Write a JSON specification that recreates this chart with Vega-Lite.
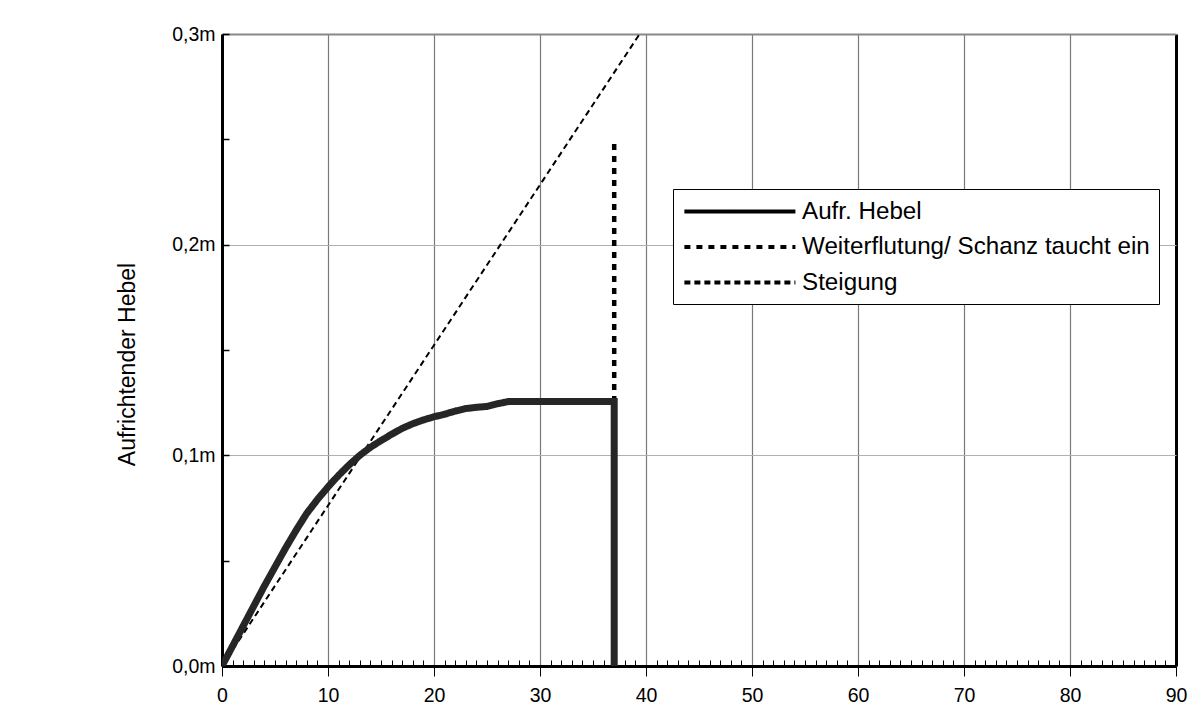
{
  "$schema": "https://vega.github.io/schema/vega-lite/v6.json",
  "autosize": {"type": "none"},
  "padding": {"left": 222, "top": 34, "right": 28, "bottom": 52},
  "width": 954,
  "height": 632,
  "background": "white",
  "config": {
    "font": "Liberation Sans",
    "view": {"stroke": null},
    "legend": {"strokeWidth": 1},
    "axis": {"labelColor": "black", "titleColor": "black", "labelFont": "Liberation Sans", "titleFont": "Liberation Sans"}
  },
  "data": {
    "values": [
      {"series": "Steigung", "i": 0, "x": 0, "y": 0},
      {"series": "Steigung", "i": 1, "x": 39.4, "y": 0.3},
      {"series": "Weiterflutung/ Schanz taucht ein", "i": 0, "x": 37, "y": 0},
      {"series": "Weiterflutung/ Schanz taucht ein", "i": 1, "x": 37, "y": 0.25},
      {"series": "Aufr. Hebel", "i": 0, "x": 0, "y": 0},
      {"series": "Aufr. Hebel", "i": 1, "x": 1, "y": 0.0095},
      {"series": "Aufr. Hebel", "i": 2, "x": 2, "y": 0.019},
      {"series": "Aufr. Hebel", "i": 3, "x": 3, "y": 0.0285},
      {"series": "Aufr. Hebel", "i": 4, "x": 4, "y": 0.038},
      {"series": "Aufr. Hebel", "i": 5, "x": 5, "y": 0.047},
      {"series": "Aufr. Hebel", "i": 6, "x": 6, "y": 0.056},
      {"series": "Aufr. Hebel", "i": 7, "x": 7, "y": 0.0645},
      {"series": "Aufr. Hebel", "i": 8, "x": 8, "y": 0.0725},
      {"series": "Aufr. Hebel", "i": 9, "x": 9, "y": 0.079},
      {"series": "Aufr. Hebel", "i": 10, "x": 10, "y": 0.085},
      {"series": "Aufr. Hebel", "i": 11, "x": 11, "y": 0.0905},
      {"series": "Aufr. Hebel", "i": 12, "x": 12, "y": 0.0955},
      {"series": "Aufr. Hebel", "i": 13, "x": 13, "y": 0.1},
      {"series": "Aufr. Hebel", "i": 14, "x": 14, "y": 0.1038},
      {"series": "Aufr. Hebel", "i": 15, "x": 15, "y": 0.107},
      {"series": "Aufr. Hebel", "i": 16, "x": 16, "y": 0.11},
      {"series": "Aufr. Hebel", "i": 17, "x": 17, "y": 0.1128},
      {"series": "Aufr. Hebel", "i": 18, "x": 18, "y": 0.115},
      {"series": "Aufr. Hebel", "i": 19, "x": 19, "y": 0.1168},
      {"series": "Aufr. Hebel", "i": 20, "x": 20, "y": 0.1183},
      {"series": "Aufr. Hebel", "i": 21, "x": 21, "y": 0.1195},
      {"series": "Aufr. Hebel", "i": 22, "x": 22, "y": 0.121},
      {"series": "Aufr. Hebel", "i": 23, "x": 23, "y": 0.1222},
      {"series": "Aufr. Hebel", "i": 24, "x": 24, "y": 0.1228},
      {"series": "Aufr. Hebel", "i": 25, "x": 25, "y": 0.1232},
      {"series": "Aufr. Hebel", "i": 26, "x": 26, "y": 0.1245},
      {"series": "Aufr. Hebel", "i": 27, "x": 27, "y": 0.1255},
      {"series": "Aufr. Hebel", "i": 28, "x": 30, "y": 0.1255},
      {"series": "Aufr. Hebel", "i": 29, "x": 37, "y": 0.1255},
      {"series": "Aufr. Hebel", "i": 30, "x": 37, "y": 0}
    ]
  },
  "mark": {"type": "line", "clip": true, "strokeCap": "butt", "strokeJoin": "miter"},
  "encoding": {
    "x": {
      "field": "x", "type": "quantitative",
      "scale": {"domain": [0, 90], "nice": false, "zero": false},
      "axis": {
        "title": null,
        "values": [0,1,2,3,4,5,6,7,8,9,10,11,12,13,14,15,16,17,18,19,20,21,22,23,24,25,26,27,28,29,30,31,32,33,34,35,36,37,38,39,40,41,42,43,44,45,46,47,48,49,50,51,52,53,54,55,56,57,58,59,60,61,62,63,64,65,66,67,68,69,70,71,72,73,74,75,76,77,78,79,80,81,82,83,84,85,86,87,88,89,90],
        "labelExpr": "datum.value % 10 == 0 ? datum.label : ''",
        "labelOverlap": false,
        "labelFlush": false,
        "labelBound": false,
        "labelFontSize": 19.5,
        "labelPadding": 10,
        "domainColor": "black",
        "domainWidth": 3,
        "tickColor": "black",
        "tickWidth": 1,
        "tickSize": {"condition": {"test": "datum.value % 10 == 0", "value": 10}, "value": -6},
        "grid": true,
        "gridColor": {"condition": {"test": "datum.value == 90", "value": "black"}, "value": "#7a7a7a"},
        "gridWidth": {"condition": {"test": "datum.value == 90", "value": 3}, "value": 1.2},
        "gridOpacity": {"condition": {"test": "datum.value % 10 == 0", "value": 1}, "value": 0}
      }
    },
    "y": {
      "field": "y", "type": "quantitative",
      "scale": {"domain": [0, 0.3], "nice": false, "zero": true},
      "axis": {
        "title": "Aufrichtender Hebel",
        "titleFontSize": 23,
        "titleFontWeight": "normal",
        "titlePadding": 32,
        "titleY": 330,
        "values": [0, 0.05, 0.1, 0.15, 0.2, 0.25, 0.3],
        "labelExpr": "round(datum.value * 20) % 2 == 0 ? replace(format(datum.value, '.1f'), '.', ',') + 'm' : ''",
        "labelOverlap": false,
        "labelFlush": false,
        "labelBound": false,
        "labelFontSize": 19.5,
        "labelPadding": 14,
        "domainColor": "black",
        "domainWidth": 3,
        "tickColor": "black",
        "tickWidth": 1.5,
        "tickSize": -7,
        "grid": true,
        "gridColor": {"condition": {"test": "datum.value > 0.29", "value": "#888888"}, "value": "#b0b0b0"},
        "gridWidth": {"condition": {"test": "datum.value > 0.29", "value": 2}, "value": 1},
        "gridOpacity": {"condition": {"test": "round(datum.value * 20) % 2 == 0", "value": 1}, "value": 0}
      }
    },
    "order": {"field": "i", "type": "quantitative"},
    "color": {
      "field": "series", "type": "nominal", "legend": null,
      "scale": {"domain": ["Weiterflutung/ Schanz taucht ein", "Steigung", "Aufr. Hebel"], "range": ["#000000", "#000000", "#262626"]}
    },
    "strokeWidth": {
      "field": "series", "type": "nominal", "legend": null,
      "scale": {"domain": ["Steigung", "Weiterflutung/ Schanz taucht ein", "Aufr. Hebel"], "range": [2, 7], "padding": 0}
    },
    "strokeDash": {
      "field": "series", "type": "nominal",
      "scale": {"domain": ["Aufr. Hebel", "Weiterflutung/ Schanz taucht ein", "Steigung"], "range": [[1, 0], [6, 6], [6, 4]]},
      "legend": {
        "title": null,
        "orient": "none",
        "legendX": 451,
        "legendY": 155,
        "padding": 9,
        "rowPadding": 9.5,
        "fillColor": "white",
        "strokeColor": "black",
        "symbolType": "M-1,0H9",
        "symbolSize": 493,
        "symbolStrokeWidth": 4,
        "symbolStrokeColor": "black",
        "symbolFillColor": "transparent",
        "labelOffset": 93,
        "labelFont": "Liberation Sans",
        "labelFontSize": 24.2,
        "labelColor": "black",
        "labelLimit": 600
      }
    }
  }
}
